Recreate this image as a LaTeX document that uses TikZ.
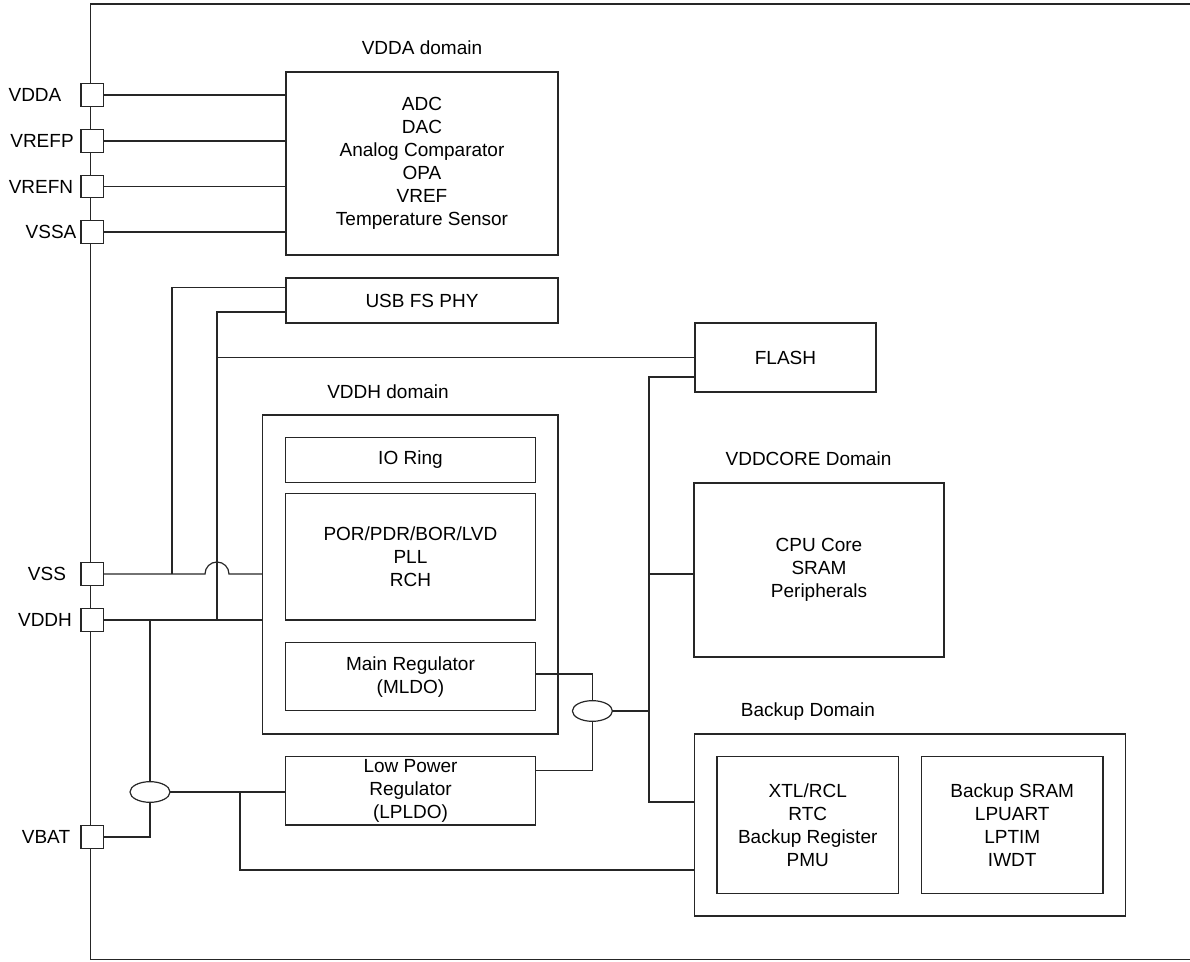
\documentclass[tikz,border=0pt]{standalone}
\usepackage{fontspec}
\setmainfont{Liberation Sans}
\usepackage{tikz}
\usetikzlibrary{calc,shapes.geometric}
\def\fs{\fontsize{14.25}{17.25}\selectfont}
\def\blk#1(#2,#3)(#4,#5)#6{\node[blk, minimum width={(#4-#2)*0.75pt}, minimum height={(#5-#3)*0.75pt}] (#1) at ({(#2+#4)/2}, {(#3+#5)/2}) {#6};}
\def\pin#1(#2)#3#4{\node[pinbox] (#1) at (92.3, #2) {}; \node[lbl] (#1txt) at (#3, #2) {#4};}
\tikzset{
	wire/.style={line width=0.9pt, color=black!85},
	blk/.style={draw=black!85, line width=0.9pt, rectangle, inner sep=0pt, outer sep=0pt, align=center, font=\fs},
	pinbox/.style={draw=black!85, fill=white, line width=0.9pt, inner sep=0pt, outer sep=0pt, minimum size=16.9pt},
	lbl/.style={inner sep=0pt, font=\fs},
	junc/.style={draw=black!85, line width=0.9pt, ellipse, inner sep=0pt, outer sep=0pt, minimum width=30pt, minimum height=15.5pt},
}
\begin{document}
\begin{tikzpicture}[x=0.75pt, y=-0.75pt]
	%%%%% START %%%%%
	\useasboundingbox (0,0) rectangle (1190,962);
	
	\draw[wire] (1190,4) -- (90.5,4) -- (90.5,959.5) -- (1190,959.5);
	
	\pin{pVDDA}(95){35}{VDDA}
	\pin{pVREFP}(141){42}{VREFP}
	\pin{pVREFN}(186.5){41}{VREFN}
	\pin{pVSSA}(232){51}{VSSA}
	\pin{pVSS}(574){47}{VSS}
	\pin{pVDDH}(620){45}{VDDH}
	\pin{pVBAT}(837){46}{VBAT}
	
	\node[lbl] (tVDDA) at (422,48) {VDDA domain};
	\blk{vdda}(286,72)(558,255){ADC\\DAC\\Analog Comparator\\OPA\\VREF\\Temperature Sensor}
	\blk{usb}(286,278)(558,323){USB FS PHY}
	\blk{flash}(695,323)(876,392){FLASH}
	
	\node[lbl] (tVDDH) at (388,392) {VDDH domain};
	\blk{vddh}(262.5,415)(558,734){}
	\blk{io}(285.5,437.3)(535.4,482.7){IO Ring}
	\blk{por}(285.5,493.3)(535.4,620){POR/PDR/BOR/LVD\\PLL\\RCH}
	\blk{mldo}(285.7,642.7)(535.3,710.7){Main Regulator\\(MLDO)}
	\blk{lpldo}(285.7,756.7)(535.3,825){Low Power\\Regulator\\(LPLDO)}
	
	\node[lbl] (tCORE) at (808.5,459) {VDDCORE Domain};
	\blk{cpu}(694,483)(944,657){CPU Core\\SRAM\\Peripherals}
	
	\node[lbl] (tBKP) at (808,712) {Backup Domain};
	\blk{bkp}(694.5,734)(1125.5,916){}
	\blk{xtl}(717,756.7)(898.5,893.3){XTL/RCL\\RTC\\Backup Register\\PMU}
	\blk{bsram}(921.5,756.7)(1103,893.3){Backup SRAM\\LPUART\\LPTIM\\IWDT}
	
	\node[junc] (sw1) at (592.4,711) {};
	\node[junc] (sw2) at (150,792) {};
	
	\coordinate (tapA) at (172,574);
	\coordinate (tapB) at (217,620);
	\coordinate (tapC) at (240,792);
	\coordinate (bus) at (649,377);
	
	% analog pins
	\draw[wire] (pVDDA.east) -- (pVDDA.east -| vdda.west);
	\draw[wire] (pVREFP.east) -- (pVREFP.east -| vdda.west);
	\draw[wire] (pVREFN.east) -- (pVREFN.east -| vdda.west);
	\draw[wire] (pVSSA.east) -- (pVSSA.east -| vdda.west);
	
	% VSS / VDDH
	\draw[wire] (pVSS.east) -- ([xshift=-9pt]tapB |- pVSS.east) arc (180:360:12) -- (pVSS.east -| vddh.west);
	\draw[wire] (tapA) |- ([yshift=10pt]usb.west);
	\draw[wire] (pVDDH.east) -- (pVDDH.east -| vddh.west);
	\draw[wire] (tapB) |- ([yshift=-8.6pt]usb.west);
	\draw[wire] (tapB |- flash.west) -- (flash.west);
	
	% VBAT switch
	\draw[wire] (sw2.north) -- (sw2.north |- pVDDH.east);
	\draw[wire] (pVBAT.east) -| (sw2.south);
	\draw[wire] (sw2.east) -- (sw2.east -| lpldo.west);
	\draw[wire] (tapC) |- ([yshift=-33.75pt]bkp.west);
	
	% core supply
	\draw[wire] ([yshift=2pt]mldo.east) -| (sw1.north);
	\draw[wire] (sw1.south) |- ([yshift=15.5pt]lpldo.east);
	\draw[wire] (sw1.east) -- (sw1.east -| bus);
	\draw[wire] ([yshift=-14.6pt]flash.west) -| ([yshift=17.25pt]bus |- bkp.west) -- ([yshift=17.25pt]bkp.west);
	\draw[wire] ([yshift=-3pt]cpu.west) -- ([yshift=-3pt]bus |- cpu.west);
	
	%%%%% END %%%%%
\end{tikzpicture}
\end{document}
